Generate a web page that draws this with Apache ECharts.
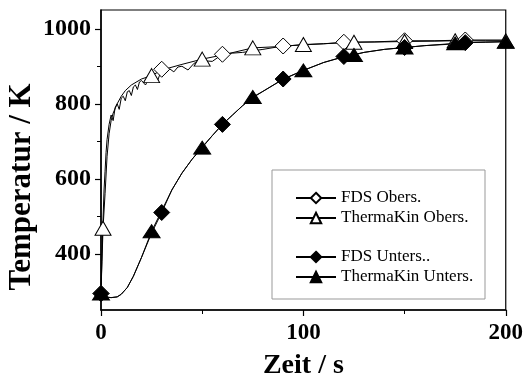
<!DOCTYPE html>
<html>
<head>
<meta charset="utf-8">
<script src="https://cdn.jsdelivr.net/npm/echarts@6/dist/echarts.min.js"></script>
<style>
  html, body { margin: 0; padding: 0; background: #fff; }
  #chart { width: 526px; height: 385px; }
</style>
</head>
<body>
<div id="chart"></div>
<script>
// Achsen
var xTicks = [0, 100, 200];
var yMajor = [400, 600, 800, 1000];
var yMinor = [300, 500, 700, 900];

// Kurvenverlauf (ohne Symbole)
var fdsObT = [0, 0.5, 1, 1.5, 2, 2.5, 3, 4, 5, 6, 7, 8, 9, 10, 11, 12, 13, 14, 15, 16, 17, 18, 19, 20, 22, 24, 26, 28, 32, 34, 36, 38, 40, 43, 46, 50, 55, 65, 70, 80, 100, 110, 135, 165, 200];
var fdsObV = [300, 400, 490, 570, 620, 670, 705, 745, 770, 755, 790, 800, 785, 815, 820, 808, 832, 835, 822, 845, 850, 838, 858, 862, 850, 872, 874, 862, 882, 893, 885, 898, 900, 890, 908, 915, 913, 935, 937, 945, 957, 960, 965, 968, 970];
var tkObT = [0, 0.5, 2, 3, 4, 5, 6, 8, 10, 12, 15, 20, 30, 40, 60, 90, 110, 140, 165, 190];
var tkObV = [300, 380, 560, 660, 720, 755, 775, 800, 820, 835, 850, 866, 890, 905, 930, 953, 960, 965, 967, 968];
var fdsUnT = [2, 5, 8, 10, 13, 16, 20, 25, 35, 40, 45, 50, 55, 65, 70, 75, 80, 100, 110, 130, 140, 160, 170, 200];
var fdsUnV = [285, 283, 285, 292, 310, 340, 390, 455, 570, 615, 652, 685, 715, 770, 795, 816, 833, 889, 910, 937, 945, 955, 958, 966];
var tkUnT = [2, 5, 8, 10, 13, 16, 20, 30, 35, 40, 45, 55, 60, 65, 70, 80, 90, 110, 120, 130, 140, 160, 180, 190];
var tkUnV = [285, 283, 285, 292, 310, 340, 390, 515, 570, 615, 652, 715, 745, 770, 795, 833, 865, 910, 925, 937, 945, 955, 963, 964];

// Messpunkte mit Symbol
var fdsObMarkT = [0, 30, 60, 90, 120, 150, 180];
var fdsObMarkV = [294, 892, 932, 954, 964, 968, 970];
var tkObMarkT = [1, 25, 50, 75, 100, 125, 150, 175, 200];
var tkObMarkV = [468, 875, 919, 949, 958, 964, 966, 968, 968];
var fdsUnMarkT = [0, 30, 60, 90, 120, 150, 180];
var fdsUnMarkV = [294, 510, 745, 866, 926, 950, 963];
var tkUnMarkT = [0, 25, 50, 75, 100, 125, 150, 175, 200];
var tkUnMarkV = [294, 460, 683, 818, 889, 930, 950, 961, 965];

var names = ["FDS Obers.", "ThermaKin Obers.", "FDS Unters..", "ThermaKin Unters."];

function buildData(lt, lv, mt, mv) {
  var pts = [];
  for (var i = 0; i < lt.length; i++) {
    pts.push({ value: [lt[i], lv[i]], symbol: "none" });
  }
  for (var j = 0; j < mt.length; j++) {
    pts.push({ value: [mt[j], mv[j]] });
  }
  pts.sort(function (a, b) { return a.value[0] - b.value[0]; });
  return pts;
}

function makeSeries(name, symbol, size, filled, data) {
  return {
    name: name,
    type: "line",
    data: data,
    symbol: symbol,
    symbolSize: size,
    showAllSymbol: true,
    smooth: false,
    animation: false,
    lineStyle: { color: "#000", width: 1 },
    itemStyle: { color: filled ? "#000" : "#fff", borderColor: "#000", borderWidth: 1 },
    emphasis: { disabled: true },
  };
}

var font = "'Liberation Serif', 'Times New Roman', serif";
var myChart = echarts.init(document.getElementById("chart"));

option = {
  backgroundColor: "#fff",
  grid: {
    left: 101, top: 10, right: 19, bottom: 70,
    show: true, borderColor: "#000", borderWidth: 1.2, backgroundColor: "transparent",
  },
  legend: [
    {
      data: names.slice(0, 2),
      orient: "vertical",
      left: 290, top: 183,
      itemWidth: 40, itemHeight: 13, itemGap: 0,
      selectedMode: false,
      textStyle: { fontFamily: font, fontSize: 17, color: "#000", lineHeight: 20 },
    },
    {
      data: names.slice(2, 4),
      orient: "vertical",
      left: 290, top: 242,
      itemWidth: 40, itemHeight: 13, itemGap: 0,
      selectedMode: false,
      textStyle: { fontFamily: font, fontSize: 17, color: "#000", lineHeight: 20 },
    },
  ],
  xAxis: {
    type: "value",
    min: xTicks[0], max: xTicks[xTicks.length - 1], interval: 100,
    name: "Zeit / s",
    nameLocation: "middle",
    nameGap: 42,
    nameTextStyle: { fontFamily: font, fontSize: 28, fontWeight: "bold", color: "#000" },
    axisLine: { lineStyle: { color: "#000", width: 1.5 } },
    axisTick: { show: true, length: 6, lineStyle: { color: "#000", width: 1.2 } },
    minorTick: { show: true, splitNumber: 2, length: 4, lineStyle: { color: "#000", width: 1 } },
    axisLabel: { fontFamily: font, fontSize: 23, fontWeight: "bold", color: "#000", margin: 12 },
    splitLine: { show: false },
  },
  yAxis: [
    {
      type: "value",
      min: 250, max: 1050,
      axisLine: { show: true, lineStyle: { color: "#000", width: 1.5 } },
      axisTick: { show: true, length: 6, customValues: yMajor, lineStyle: { color: "#000", width: 1.2 } },
      axisLabel: {
        customValues: yMajor,
        formatter: function (v) { return String(v); },
        fontFamily: font, fontSize: 24, fontWeight: "bold", color: "#000", margin: 10,
      },
      splitLine: { show: false },
    },
    {
      type: "value",
      min: 250, max: 1050,
      position: "left",
      axisLine: { show: false },
      axisTick: { show: true, length: 4, customValues: yMinor, lineStyle: { color: "#000", width: 1 } },
      axisLabel: { show: false },
      splitLine: { show: false },
    },
  ],
  graphic: [
    {
      type: "rect",
      shape: { x: 272, y: 170, width: 213, height: 129 },
      style: { fill: "none", stroke: "#999", lineWidth: 1 },
      z: 1,
    },
    {
      type: "text",
      x: 22, y: 187,
      rotation: Math.PI / 2,
      style: {
        text: "Temperatur / K",
        fontFamily: font, fontSize: 31, fontWeight: "bold", fill: "#000",
        align: "center", verticalAlign: "middle",
      },
    },
  ],
  series: [
    makeSeries(names[0], "diamond", 16, false, buildData(fdsObT, fdsObV, fdsObMarkT, fdsObMarkV)),
    makeSeries(names[1], "triangle", [16, 14], false, buildData(tkObT, tkObV, tkObMarkT, tkObMarkV)),
    makeSeries(names[2], "diamond", 16, true, buildData(fdsUnT, fdsUnV, fdsUnMarkT, fdsUnMarkV)),
    makeSeries(names[3], "triangle", [17, 13], true, buildData(tkUnT, tkUnV, tkUnMarkT, tkUnMarkV)),
  ],
};

myChart.setOption(option);
window.addEventListener("resize", function () {
  myChart.resize();
});
</script>
</body>
</html>
